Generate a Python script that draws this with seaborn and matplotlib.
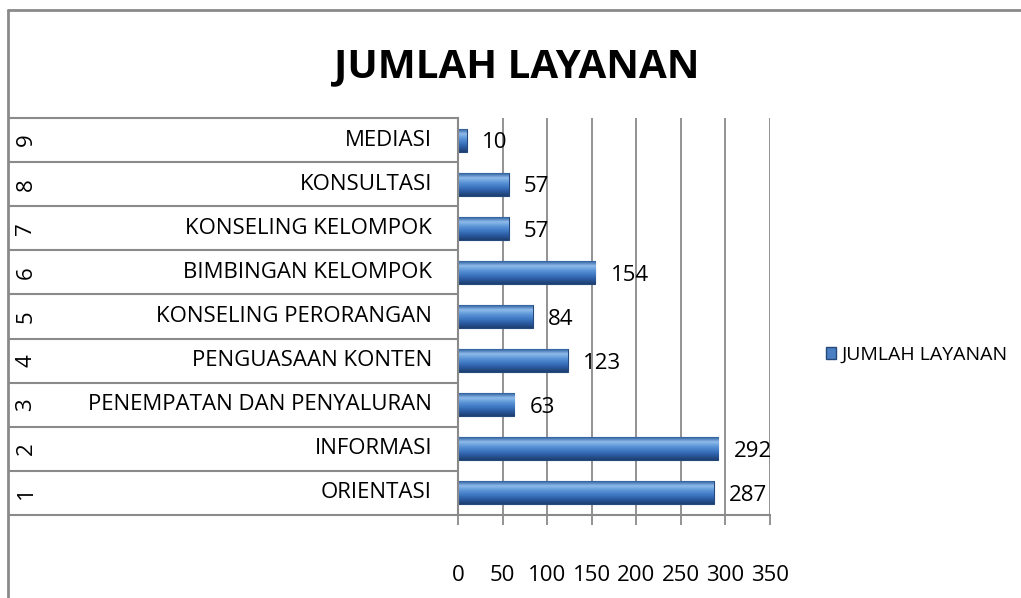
import numpy as np
import pandas as pd
import seaborn as sns
from matplotlib import pyplot as plt
from matplotlib import transforms
from matplotlib.colors import LinearSegmentedColormap
from matplotlib.lines import Line2D
from matplotlib.patches import Patch

# data
nomor = ["1", "2", "3", "4", "5", "6", "7", "8", "9"]
layanan = ["ORIENTASI", "INFORMASI", "PENEMPATAN DAN PENYALURAN",
           "PENGUASAAN KONTEN", "KONSELING PERORANGAN", "BIMBINGAN KELOMPOK",
           "KONSELING KELOMPOK", "KONSULTASI", "MEDIASI"]
jumlah = [287, 292, 63, 123, 84, 154, 57, 57, 10]
x_ticks = [0, 50, 100, 150, 200, 250, 300, 350]
judul = "JUMLAH LAYANAN"

W, H = 1021, 598
GRAY = "#8a8a8a"
BLUE = "#4a7fc4"
FS = 16

sns.set_style("white")
plt.rcParams["font.family"] = ["Open Sans", "DejaVu Sans"]
plt.rcParams["text.color"] = "black"
plt.rcParams["xtick.labelcolor"] = "black"


def fx(x):
    return x / W


def fy(y):
    return 1 - y / H


def gradient_bars(ax, cmap):
    grad = np.linspace(0, 1, 64).reshape(-1, 1)
    for patch in ax.patches:
        x, y = patch.get_x(), patch.get_y()
        w, h = patch.get_width(), patch.get_height()
        im = ax.imshow(grad, cmap=cmap, aspect="auto", origin="upper",
                       extent=(x, x + w, y + h, y), zorder=patch.get_zorder() + 0.1)
        im.set_clip_path(patch)


def main():
    df = pd.DataFrame({"layanan": layanan, "jumlah": jumlah})

    fig = plt.figure(figsize=(W / 100, H / 100), dpi=100)
    ax = fig.add_axes([fx(458), fy(515), fx(770) - fx(458), fy(118) - fy(515)])

    sns.barplot(data=df, x="jumlah", y="layanan", order=layanan[::-1], orient="h",
                width=0.52, color=BLUE, edgecolor="#24497a", linewidth=0.8, ax=ax)

    cmap = LinearSegmentedColormap.from_list(
        "bevel", ["#2f5f9f", "#8fbbea", "#5d96d8", "#3f78c2", "#2a5aa0", "#1d3f70"])
    gradient_bars(ax, cmap)

    ax.set_xlim(0, 350)
    ax.set_ylim(8.5, -0.5)
    ax.set_xticks(x_ticks)
    ax.set_xticklabels([str(t) for t in x_ticks])
    ax.set_yticks([])
    ax.set_xlabel("")
    ax.set_ylabel("")
    ax.xaxis.grid(True, color=GRAY, linewidth=1.3)
    ax.set_axisbelow(True)
    for side in ["top", "right"]:
        ax.spines[side].set_visible(False)
    for side in ["left", "bottom"]:
        ax.spines[side].set_color(GRAY)
        ax.spines[side].set_linewidth(1.5)
    ax.tick_params(axis="x", direction="out", length=7, width=1.3, color=GRAY,
                   pad=29, labelsize=FS, bottom=True)

    # category table on the left
    trans = transforms.blended_transform_factory(fig.transFigure, ax.transData)
    for b in np.arange(-0.5, 9.0, 1.0):
        ax.plot([fx(9), fx(458)], [b, b], transform=trans, color=GRAY,
                linewidth=1.5, clip_on=False)
    for k, (n, name) in enumerate(zip(nomor, layanan)):
        row = 8 - k
        ax.text(fx(26), row, n, transform=trans, rotation=90, ha="center",
                va="center", fontsize=FS)
        ax.text(fx(432), row, name, transform=trans, ha="right", va="center",
                fontsize=FS)

    # value labels
    for k, v in enumerate(jumlah):
        ax.annotate(str(v), (v, 8 - k), xytext=(11, -2), textcoords="offset points",
                    ha="left", va="center", fontsize=FS)

    fig.legend(handles=[Patch(facecolor=BLUE, edgecolor="#24497a", label=judul)],
               loc="center left", bbox_to_anchor=(fx(808), fy(355)), frameon=False,
               handlelength=0.55, handleheight=0.55, handletextpad=0.25,
               fontsize=14)

    fig.text(fx(517), fy(67), judul, ha="center", va="center", fontsize=29,
             fontweight="bold", family=["Liberation Sans Narrow", "Open Sans", "DejaVu Sans"])

    # chart border (right and bottom edges fall outside the picture)
    fig.add_artist(Line2D([fx(8), fx(8)], [0, fy(10)], color=GRAY, linewidth=2))
    fig.add_artist(Line2D([fx(8), 1], [fy(10), fy(10)], color=GRAY, linewidth=2))

    fig.savefig("out.png", dpi=100, facecolor="white")


if __name__ == "__main__":
    main()
